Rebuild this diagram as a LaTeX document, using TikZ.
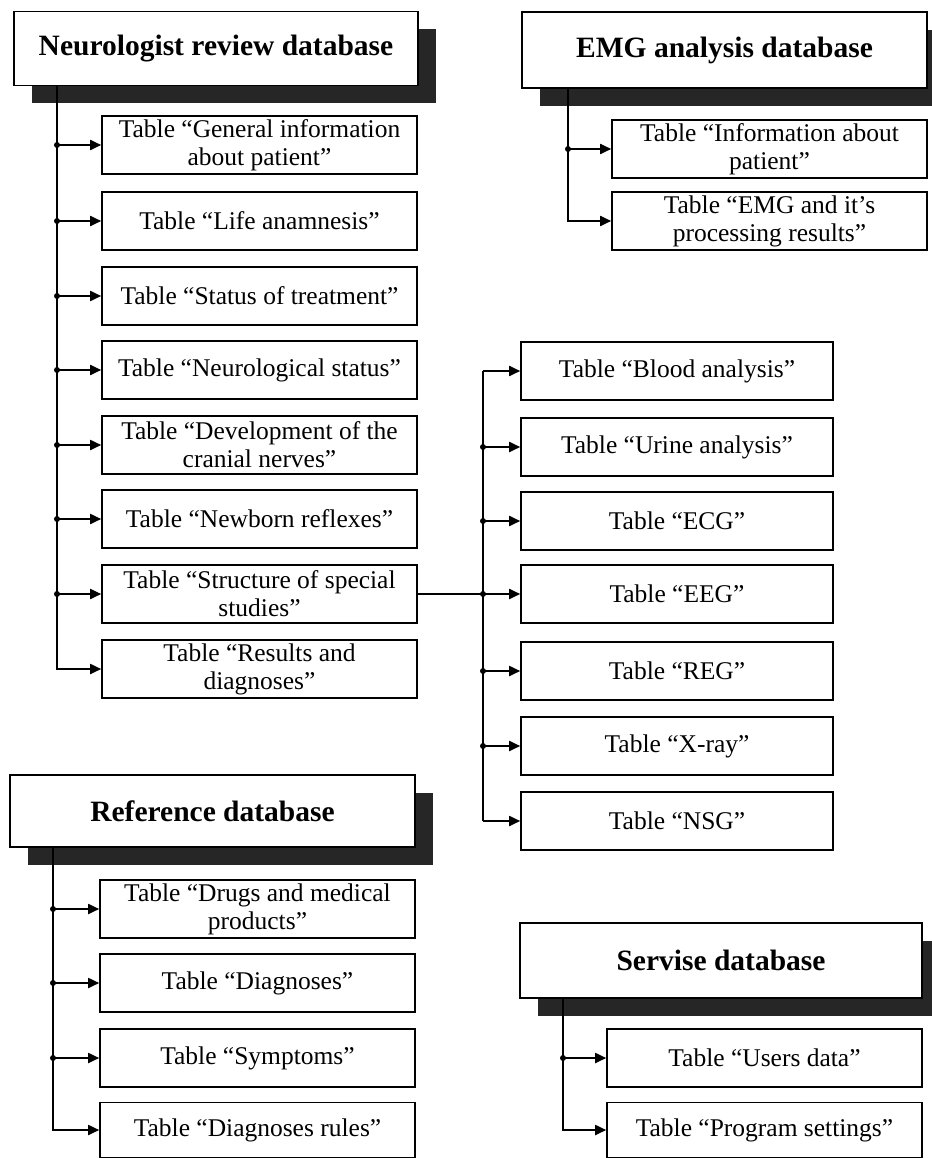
\documentclass[tikz,border=0pt]{standalone}
\usepackage{fontspec}
\setmainfont{Liberation Serif}
\usetikzlibrary{arrows.meta,shadows}
\tikzset{
  tbl/.style={draw=black,line width=1.6pt,fill=white,inner sep=0pt,
    minimum width=315pt,minimum height=58pt,align=center,
    font=\fontsize{25.5}{28}\selectfont},
  hdr/.style={draw=black,line width=1.7pt,fill=white,inner sep=0pt,
    minimum height=74pt,align=center,
    font=\bfseries\fontsize{29.5}{33}\selectfont,
    general shadow={fill=black!85,shadow xshift=18pt,shadow yshift=-18pt}},
  ln/.style={draw=black,line width=1.8pt},
  arr/.style={ln,-{Triangle[length=11pt,width=10pt]}},
  dot/.style={fill=black}
}
\begin{document}
\begin{tikzpicture}[x=1pt,y=-1pt]
\useasboundingbox (0,0) rectangle (931,1158);

% ---------- Neurologist review database ----------
\node[hdr,minimum width=404pt] (neuro) at (216,48.5) {Neurologist review database};
\node[tbl] (n1) at (259.5,145) {Table “General information\\about patient”};
\node[tbl] (n2) at (259.5,221) {Table “Life anamnesis”};
\node[tbl] (n3) at (259.5,296) {Table “Status of treatment”};
\node[tbl] (n4) at (259.5,370) {Table “Neurological status”};
\node[tbl] (n5) at (259.5,445) {Table “Development of the\\cranial nerves”};
\node[tbl] (n6) at (259.5,519) {Table “Newborn reflexes”};
\node[tbl] (n7) at (259.5,594) {Table “Structure of special\\studies”};
\node[tbl] (n8) at (259.5,669) {Table “Results and\\diagnoses”};
\coordinate (nx) at (57,0);
\draw[arr] (neuro.south -| nx) |- (n8.west);
\foreach \n in {n1,n2,n3,n4,n5,n6,n7}{
  \draw[arr] (nx |- \n.west) -- (\n.west);
  \fill[dot] (nx |- \n.west) circle (3);
}

% ---------- Special studies ----------
\node[tbl,minimum width=312pt] (s1) at (677,371) {Table “Blood analysis”};
\node[tbl,minimum width=312pt] (s2) at (677,447) {Table “Urine analysis”};
\node[tbl,minimum width=312pt] (s3) at (677,521) {Table “ECG”};
\node[tbl,minimum width=312pt] (s4) at (677,594) {Table “EEG”};
\node[tbl,minimum width=312pt] (s5) at (677,671) {Table “REG”};
\node[tbl,minimum width=312pt] (s6) at (677,746) {Table “X-ray”};
\node[tbl,minimum width=312pt] (s7) at (677,821) {Table “NSG”};
\coordinate (sx) at (483,0);
\draw[arr] (n7.east) -- (s4.west);
\draw[ln] (sx |- s1.west) -- (sx |- s7.west);
\foreach \n in {s1,s2,s3,s5,s6,s7}{
  \draw[arr] (sx |- \n.west) -- (\n.west);
}
\foreach \n in {s2,s3,s4,s5,s6}{
  \fill[dot] (sx |- \n.west) circle (3);
}

% ---------- EMG analysis database ----------
\node[hdr,minimum width=405pt,minimum height=76pt] (emg) at (724.5,50) {EMG analysis database};
\node[tbl] (e1) at (769.5,149) {Table “Information about\\patient”};
\node[tbl] (e2) at (769.5,221) {Table “EMG and it’s\\processing results”};
\coordinate (ex) at (568,0);
\draw[arr] (emg.south -| ex) |- (e2.west);
\draw[arr] (ex |- e1.west) -- (e1.west);
\fill[dot] (ex |- e1.west) circle (3);

% ---------- Reference database ----------
\node[hdr,minimum width=405pt,minimum height=72pt] (ref) at (212.5,811) {Reference database};
\node[tbl] (r1) at (257.5,909) {Table “Drugs and medical\\products”};
\node[tbl] (r2) at (257.5,983) {Table “Diagnoses”};
\node[tbl] (r3) at (257.5,1058) {Table “Symptoms”};
\node[tbl,minimum height=55pt] (r4) at (257.5,1130) {Table “Diagnoses rules”};
\coordinate (rx) at (53,0);
\draw[arr] (ref.south -| rx) |- (r4.west);
\foreach \n in {r1,r2,r3}{
  \draw[arr] (rx |- \n.west) -- (\n.west);
  \fill[dot] (rx |- \n.west) circle (3);
}

% ---------- Servise database ----------
\node[hdr,minimum width=402pt,minimum height=75pt] (serv) at (721,960.5) {Servise database};
\node[tbl] (v1) at (764.5,1058) {Table “Users data”};
\node[tbl,minimum height=55pt] (v2) at (764.5,1130) {Table “Program settings”};
\coordinate (vx) at (563,0);
\draw[arr] (serv.south -| vx) |- (v2.west);
\draw[arr] (vx |- v1.west) -- (v1.west);
\fill[dot] (vx |- v1.west) circle (3);
\end{tikzpicture}
\end{document}
